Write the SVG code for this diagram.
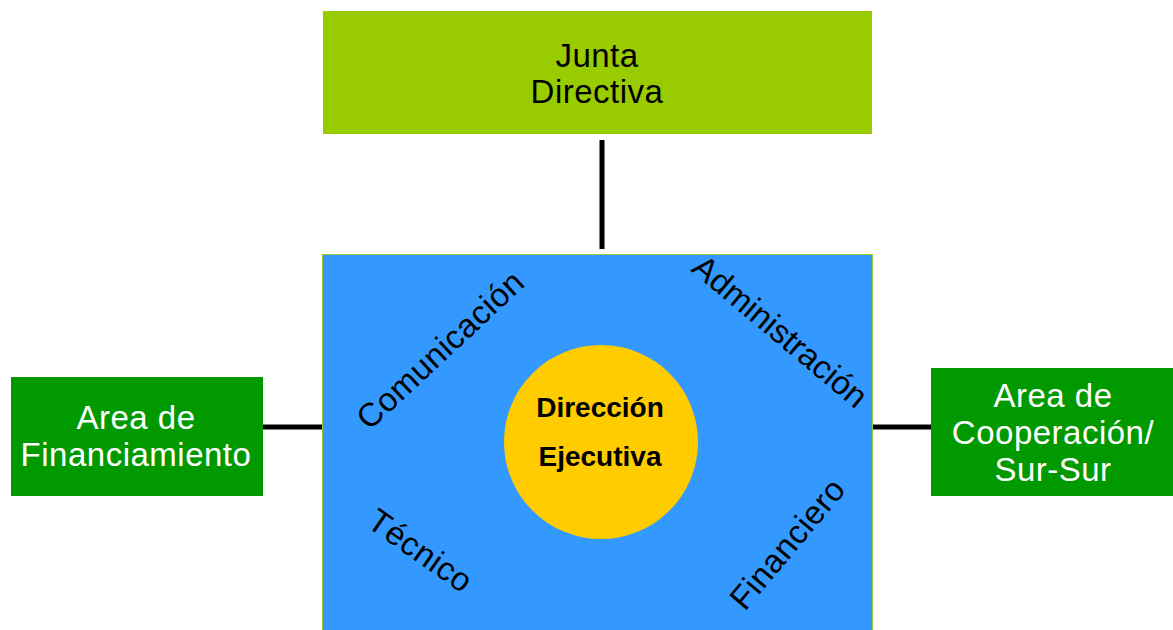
<svg xmlns="http://www.w3.org/2000/svg" width="1173" height="630" viewBox="0 0 1173 630">
<style>
.t{font-family:"Liberation Sans",Arial,sans-serif;font-size:33px;letter-spacing:0.5px;text-anchor:middle}
.w{fill:#fff}
.k{fill:#000}
.b{font-family:"Liberation Sans",Arial,sans-serif;font-weight:bold;font-size:28px;text-anchor:middle;fill:#000}
.c{stroke:#000;stroke-width:5;fill:none}
</style>
<rect width="1173" height="630" fill="#fff"/>
<g id="connectors">
<line class="c" x1="602" y1="140" x2="602" y2="249"/>
<line class="c" x1="263" y1="427" x2="322" y2="427"/>
<line class="c" x1="872" y1="427" x2="931" y2="427"/>
</g>
<g id="junta">
<rect x="323" y="11" width="549" height="123" fill="#99cc00"/>
<text class="t k" x="597" y="67">Junta</text>
<text class="t k" x="597" y="103">Directiva</text>
</g>
<g id="main">
<rect x="322.5" y="254.5" width="550" height="380" fill="#3399ff" stroke="#99cc33" stroke-width="1"/>
<text class="t k" transform="translate(448,358) rotate(-43)">Comunicación</text>
<text class="t k" style="letter-spacing:0" transform="translate(773,340) rotate(40)">Administración</text>
<text class="t k" transform="translate(414,560) rotate(35)">Técnico</text>
<text class="t k" transform="translate(796,551) rotate(-50)">Financiero</text>
</g>
<g id="direccion">
<circle cx="601" cy="442" r="97" fill="#ffcc00"/>
<text class="b" x="600" y="417">Dirección</text>
<text class="b" x="600" y="466">Ejecutiva</text>
</g>
<g id="financiamiento">
<rect x="11" y="377" width="252" height="119" fill="#009900"/>
<text class="t w" x="136" y="429">Area de</text>
<text class="t w" x="136" y="466">Financiamiento</text>
</g>
<g id="cooperacion">
<rect x="931" y="368" width="242" height="128" fill="#009900"/>
<text class="t w" x="1053" y="407">Area de</text>
<text class="t w" x="1053" y="444">Cooperación/</text>
<text class="t w" x="1053" y="481">Sur-Sur</text>
</g>
</svg>
